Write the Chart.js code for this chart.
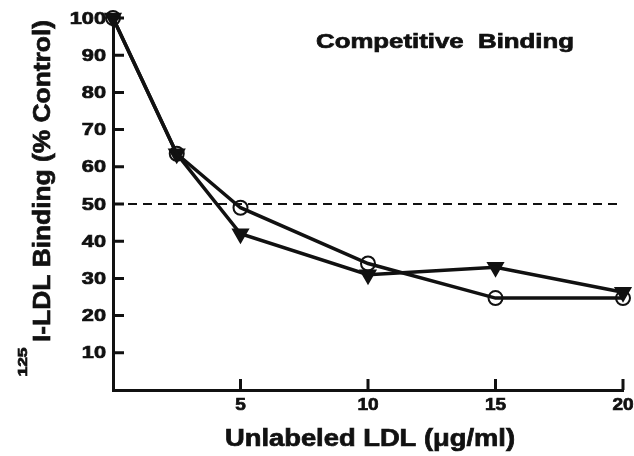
<!DOCTYPE html>
<html>
<head>
<meta charset="utf-8">
<script src="https://cdn.jsdelivr.net/npm/chart.js@4.4.1/dist/chart.umd.min.js"></script>
<style>
  html, body { margin: 0; padding: 0; background: #fff; }
  #wrap { width: 634px; height: 456px; }
</style>
</head>
<body>
<div id="wrap"><canvas id="chart"></canvas></div>
<script>
// Data
const ldlDose = [0, 2.5, 5, 10, 15, 20];
const openCircle = [100, 63.5, 49, 34, 24.7, 24.7];
const filledTriangle = [100, 63.5, 42, 31, 33, 26.3];
const halfLine = [50, 50];
const halfLineX = [0, 20];
const xTicks = [5, 10, 15, 20];
const yTicks = [10, 20, 30, 40, 50, 60, 70, 80, 90, 100];

const FONT = '"Liberation Sans", Arial, Helvetica, sans-serif';
const INK = '#111';

function toPoints(xs, ys) {
    return xs.map((x, i) => ({ x: x, y: ys[i] }));
}

// draw text stretched horizontally, with a thin stroke to look heavier like the scan
function drawWide(ctx, text, x, y, font, stretch, align) {
    ctx.save();
    ctx.font = font;
    ctx.textAlign = align || 'center';
    ctx.textBaseline = 'middle';
    ctx.translate(x, y);
    ctx.scale(stretch, 1);
    ctx.lineWidth = 0.7;
    ctx.strokeStyle = INK;
    ctx.fillText(text, 0, 0);
    ctx.strokeText(text, 0, 0);
    ctx.restore();
}

function fitStretch(ctx, text, font, width) {
    ctx.save();
    ctx.font = font;
    const w = ctx.measureText(text).width;
    ctx.restore();
    return width / w;
}

// Inward tick marks, tick labels, axis titles and inset label
const decorPlugin = {
    id: 'decor',
    afterDatasetsDraw(chart) {
        const ctx = chart.ctx;
        const xs = chart.scales.x;
        const ys = chart.scales.y;
        const area = chart.chartArea;
        ctx.save();
        ctx.strokeStyle = INK;
        ctx.fillStyle = INK;
        ctx.lineWidth = 3;
        ctx.beginPath();
        yTicks.forEach(v => {
            const py = ys.getPixelForValue(v);
            ctx.moveTo(area.left, py);
            ctx.lineTo(area.left + 11, py);
        });
        xTicks.forEach(v => {
            const px = xs.getPixelForValue(v);
            ctx.moveTo(px, area.bottom);
            ctx.lineTo(px, area.bottom - 11);
        });
        ctx.stroke();

        const tickFont = 'bold 17px ' + FONT;
        yTicks.forEach(v => {
            drawWide(ctx, String(v), area.left - 7, ys.getPixelForValue(v) + 1, tickFont, 1.28, 'right');
        });
        xTicks.forEach(v => {
            drawWide(ctx, String(v), xs.getPixelForValue(v), area.bottom + 15, tickFont, 1.12, 'center');
        });

        // inset label
        const insetFont = 'bold 20px ' + FONT;
        const inset = 'Competitive  Binding';
        drawWide(ctx, inset, 445, 42, insetFont, fitStretch(ctx, inset, insetFont, 258));

        // x title
        const xFont = 'bold 23px ' + FONT;
        const xTitle = 'Unlabeled LDL (\u03bcg/ml)';
        drawWide(ctx, xTitle, 370, 440, xFont, fitStretch(ctx, xTitle, xFont, 290));

        // y title, rotated, with superscript 125
        ctx.translate(43, 181);
        ctx.rotate(-Math.PI / 2);
        const yFont = 'bold 24px ' + FONT;
        const yTitle = 'I-LDL Binding (% Control)';
        drawWide(ctx, yTitle, 0, 0, yFont, fitStretch(ctx, yTitle, yFont, 322));
        const supFont = 'bold 13px ' + FONT;
        drawWide(ctx, '125', -181, -20, supFont, fitStretch(ctx, '125', supFont, 29));
        ctx.restore();
    }
};

new Chart(document.getElementById('chart'), {
    type: 'line',
    data: {
        datasets: [
            {
                label: 'Open circles',
                data: toPoints(ldlDose, openCircle),
                borderColor: INK,
                borderWidth: 3.5,
                pointStyle: 'circle',
                pointRadius: 7,
                pointBorderWidth: 2,
                pointBackgroundColor: 'rgba(255,255,255,0)',
                clip: false
            },
            {
                label: 'Filled triangles',
                data: toPoints(ldlDose, filledTriangle),
                borderColor: INK,
                borderWidth: 3.5,
                pointStyle: 'triangle',
                pointRotation: 180,
                pointRadius: 7,
                pointBackgroundColor: INK,
                clip: false
            },
            {
                label: '50%',
                data: toPoints(halfLineX, halfLine),
                borderColor: INK,
                borderWidth: 2,
                borderDash: [9, 6],
                pointRadius: 0
            }
        ]
    },
    options: {
        responsive: true,
        maintainAspectRatio: false,
        animation: false,
        layout: { padding: { top: 18, right: 11, left: 0, bottom: 0 } },
        plugins: {
            legend: { display: false },
            tooltip: { enabled: false }
        },
        scales: {
            x: {
                type: 'linear',
                min: 0,
                max: 20,
                afterFit(scale) { scale.height = 66; },
                border: { display: true, color: INK, width: 3 },
                grid: { display: false },
                ticks: { display: false, stepSize: 5 }
            },
            y: {
                min: 0,
                max: 100,
                afterFit(scale) { scale.width = 113; },
                border: { display: true, color: INK, width: 3 },
                grid: { display: false },
                ticks: { display: false, stepSize: 10 }
            }
        }
    },
    plugins: [decorPlugin]
});
</script>
</body>
</html>
